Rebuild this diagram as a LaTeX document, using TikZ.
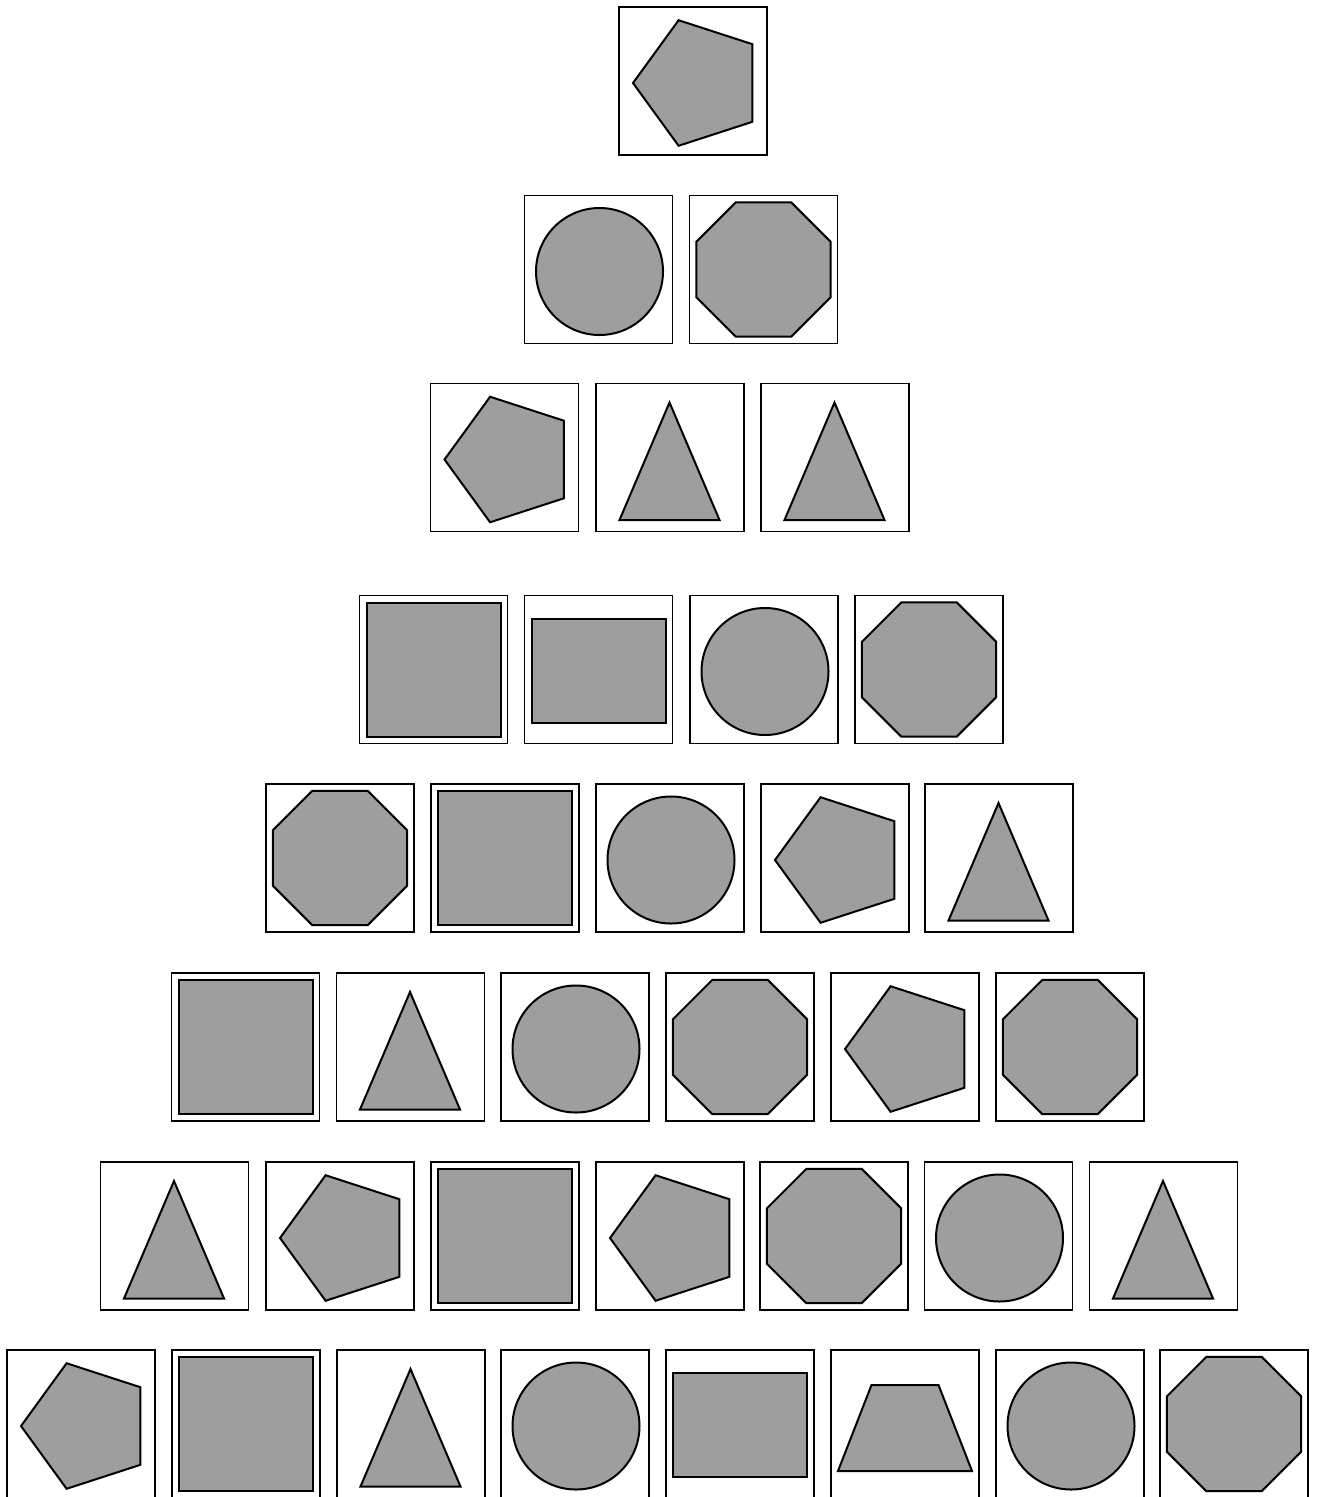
\documentclass[tikz,border=0pt]{standalone}
\definecolor{shapegray}{RGB}{158,158,158}
\tikzset{
  cell/.style={draw=black, line width=1.9pt, minimum size=148pt, inner sep=0pt, outer sep=0pt},
  shp/.style={draw=black, fill=shapegray, line width=2pt, line join=miter}
}
\newcommand\SHpent{\draw[shp] (6,2)+(180:66) -- +(108:66) -- +(36:66) -- +(-36:66) -- +(-108:66) -- cycle;}
\newcommand\SHoct{\draw[shp] (22.5:72.6) -- (67.5:72.6) -- (112.5:72.6) -- (157.5:72.6) -- (202.5:72.6) -- (247.5:72.6) -- (292.5:72.6) -- (337.5:72.6) -- cycle;}
\newcommand\SHcirc{\draw[shp] (1,2) circle[radius=63.5];}
\newcommand\SHsq{\draw[shp] (-67,-67) rectangle (67,67);}
\newcommand\SHrect{\draw[shp] (-67,-51) rectangle (67,53);}
\newcommand\SHtri{\draw[shp] (-0.5,-55) -- (49.5,62.5) -- (-50.5,62.5) -- cycle;}
\newcommand\SHtrap{\draw[shp] (-67,47) -- (67,47) -- (33.5,-39) -- (-33.5,-39) -- cycle;}
\begin{document}
\begin{tikzpicture}[x=1pt,y=-1pt]
\useasboundingbox (0,0) rectangle (1317,1497);
\foreach \nm/\cx/\cy/\kind in {
  a1/693/81/pent,
  b1/598.5/269.5/circ, b2/763.5/269.5/oct,
  c1/504.5/457.5/pent, c2/670/457.5/tri, c3/835/457.5/tri,
  d1/433.5/669.5/sq, d2/598.5/669.5/rect, d3/764/669.5/circ, d4/929/669.5/oct,
  e1/340/858/oct, e2/505/858/sq, e3/670/858/circ, e4/835/858/pent, e5/999/858/tri,
  f1/245.5/1047/sq, f2/410.5/1047/tri, f3/575/1047/circ, f4/740/1047/oct, f5/905/1047/pent, f6/1070/1047/oct,
  g1/174.5/1236/tri, g2/340/1236/pent, g3/505/1236/sq, g4/670/1236/pent, g5/834/1236/oct, g6/998.5/1236/circ, g7/1163.5/1236/tri,
  h1/81/1424/pent, h2/246/1424/sq, h3/411/1424/tri, h4/575/1424/circ, h5/740/1424/rect, h6/905/1424/trap, h7/1070/1424/circ, h8/1234/1424/oct}
{
  \node[cell] (\nm) at (\cx,\cy) {};
  \begin{scope}[shift={(\nm.center)}]
    \csname SH\kind\endcsname
  \end{scope}
}
\end{tikzpicture}
\end{document}
